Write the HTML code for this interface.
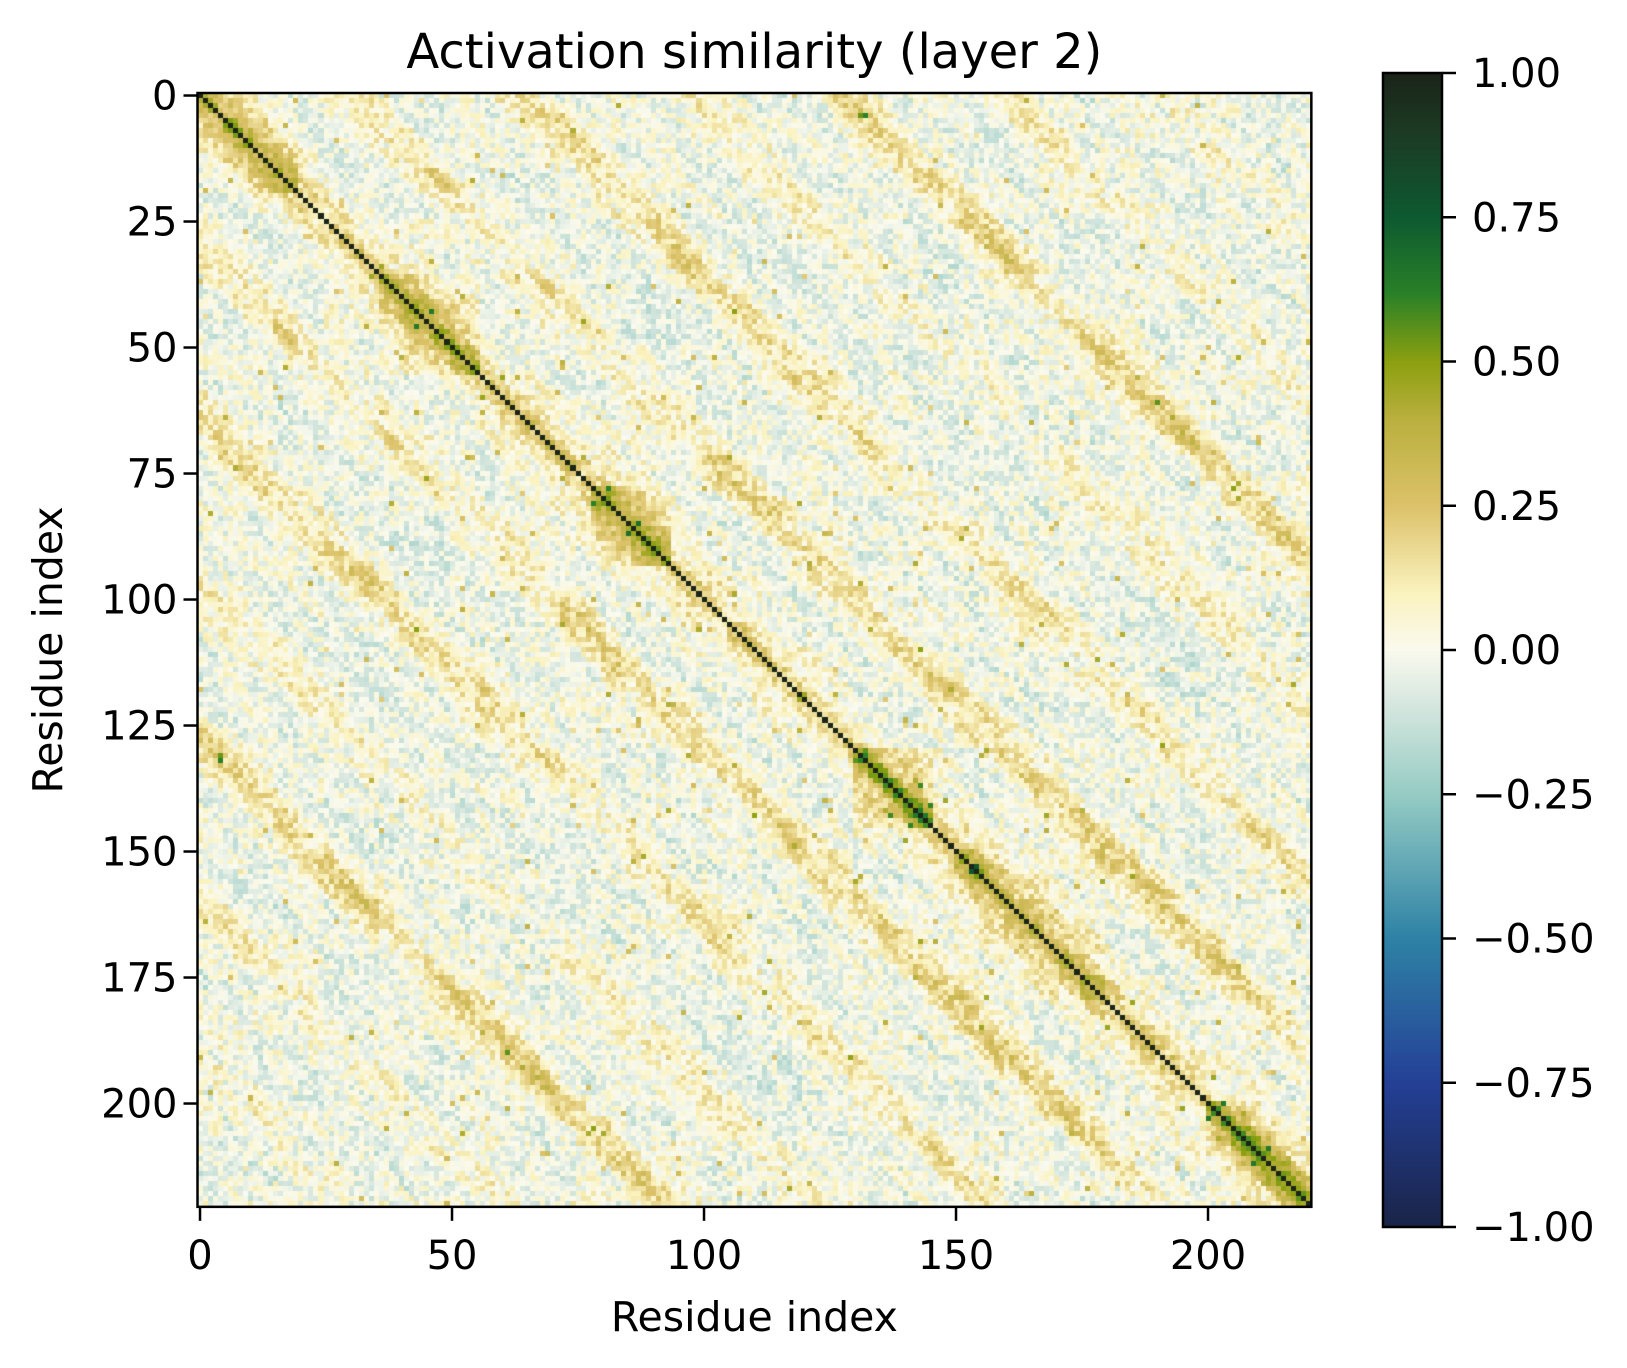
<!DOCTYPE html>
<html><head><meta charset="utf-8">
<style>
html,body{margin:0;padding:0;background:#fff;}
#wrap{position:relative;width:1627px;height:1368px;overflow:hidden;font-family:"DejaVu Sans","Liberation Sans",sans-serif;}
canvas{position:absolute;}
svg{position:absolute;left:0;top:0;}
</style></head>
<body>
<div id="wrap">
<canvas id="heat"></canvas>
<canvas id="cbar"></canvas>
<svg id="ax" width="1627" height="1368"></svg>
</div>
<script>
// ---- data ----
const nResidues = 221;
const xTicks = [0, 50, 100, 150, 200];
const yTicks = [0, 25, 50, 75, 100, 125, 150, 175, 200];
const cbarTicks = [1.00, 0.75, 0.50, 0.25, 0.00, -0.25, -0.50, -0.75, -1.00];
// off-diagonal similarity bands (|j - i| = offset)
const bandOffsets = [30, 64, 97, 128, 160, 190];
const bandStrength = [0.17, 0.15, 0.08, 0.2, 0.1, 0.08];
// diagonal blocks with elevated similarity
const blockStart = [0, 36, 78, 130, 150, 200];
const blockEnd   = [20, 56, 94, 146, 180, 221];
const blockStrength = [0.22, 0.25, 0.3, 0.3, 0.18, 0.3];
const baseValue = 0.0;

// ---- geometry ----
const L = 197.5, T = 93, CELL = 5.04;
const W = nResidues * CELL;
const CB = {x:1383, y:73, w:59, h:1154};

const stops = [
 [-1,[26,36,72]],[-0.75,[36,64,150]],[-0.5,[46,130,165]],[-0.25,[150,204,196]],
 [-0.1,[212,230,222]],[0,[250,250,238]],[0.1,[250,242,190]],[0.25,[220,194,106]],
 [0.4,[186,176,62]],[0.5,[140,160,16]],[0.62,[40,128,40]],[0.75,[14,90,48]],
 [0.9,[28,58,36]],[1,[26,36,24]]];
function cmap(v){
  v=Math.max(-1,Math.min(1,v));
  for(let k=1;k<stops.length;k++){
    if(v<=stops[k][0]){
      const a=stops[k-1],b=stops[k],t=(v-a[0])/(b[0]-a[0]);
      return a[1].map((c,i)=>Math.round(c+(b[1][i]-c)*t));
    }
  }
  return stops[stops.length-1][1];
}
function hash(i,j){let h=(i*374761393+j*668265263)>>>0;h=(h^(h>>>13))*1274126177>>>0;return ((h^(h>>>16))>>>0)/4294967295;}
function value(i,j){
  const a=Math.min(i,j),b=Math.max(i,j),d=b-a;
  if(d===0) return 1;
  let v=baseValue;
  v+=0.3*Math.exp(-d/5);
  for(let k=0;k<blockStart.length;k++){
    if(a>=blockStart[k]&&b<blockEnd[k]) v+=blockStrength[k]*Math.exp(-d/7);
  }
  for(let k=0;k<bandOffsets.length;k++){
    const e=d-bandOffsets[k]; v+=bandStrength[k]*Math.exp(-(e*e)/25)*(0.6+0.8*hash(Math.floor(a/12),k));
  }
  const n=(hash(a,b)-0.5)*0.22+(hash(Math.floor(a/5),Math.floor((b-a)/3))-0.5)*0.12-0.02;
  v+=n;
  if(hash(b,a+7)>0.99) v+=0.3;
  return v;
}

// ---- heatmap ----
const hc=document.getElementById('heat');
hc.width=Math.round(W);hc.height=Math.round(W);
hc.style.left=L+'px';hc.style.top=T+'px';
const hx=hc.getContext('2d');
for(let i=0;i<nResidues;i++)for(let j=0;j<nResidues;j++){
  const c=cmap(value(i,j));
  hx.fillStyle=`rgb(${c[0]},${c[1]},${c[2]})`;
  hx.fillRect(Math.floor(j*CELL),Math.floor(i*CELL),Math.ceil(CELL)+1,Math.ceil(CELL)+1);
}
// ---- colorbar ----
const cc=document.getElementById('cbar');
cc.width=CB.w;cc.height=CB.h;cc.style.left=CB.x+'px';cc.style.top=CB.y+'px';
const cx=cc.getContext('2d');
for(let y=0;y<CB.h;y++){const c=cmap(1-2*y/(CB.h-1));cx.fillStyle=`rgb(${c[0]},${c[1]},${c[2]})`;cx.fillRect(0,y,CB.w,1);}

// ---- axes ----
const svg=document.getElementById('ax');const NS='http://www.w3.org/2000/svg';
function el(tag,attrs,text){const e=document.createElementNS(NS,tag);for(const k in attrs)e.setAttribute(k,attrs[k]);if(text!==undefined)e.textContent=text;svg.appendChild(e);return e;}
const xPos=v=>L+(v+0.5)*CELL, yPos=v=>T+(v+0.5)*CELL;
let r=el('rect',{x:L,y:T,width:W,height:W,fill:'none',stroke:'#000','stroke-width':2.5});

xTicks.forEach(v=>{
  const l=el('line',{x1:xPos(v),x2:xPos(v),y1:T+W,y2:T+W+14,stroke:'#000','stroke-width':2.5});
  
  const t=el('text',{x:xPos(v),y:1269,'text-anchor':'middle','font-size':40},String(v));
  
});
yTicks.forEach(v=>{
  const l=el('line',{x1:L-14,x2:L,y1:yPos(v),y2:yPos(v),stroke:'#000','stroke-width':2.5});
  
  const t=el('text',{x:L-20,y:yPos(v)+14,'text-anchor':'end','font-size':40},String(v));
  
});
let c2=el('rect',{x:CB.x,y:CB.y,width:CB.w,height:CB.h,fill:'none',stroke:'#000','stroke-width':2.5});

cbarTicks.forEach(v=>{
  const y=CB.y+(1-v)/2*CB.h;
  const l=el('line',{x1:CB.x+CB.w,x2:CB.x+CB.w+14,y1:y,y2:y,stroke:'#000','stroke-width':2.5});
  
  const t=el('text',{x:CB.x+CB.w+30,y:y+14,'font-size':40},(v<0?'\u2212':'')+Math.abs(v).toFixed(2));
  
});
let tt=el('text',{x:L+W/2,y:68,'text-anchor':'middle','font-size':48},'Activation similarity (layer 2)');

let xl=el('text',{x:L+W/2,y:1331,'text-anchor':'middle','font-size':41},'Residue index');

let yl=el('text',{x:0,y:0,'text-anchor':'middle','font-size':41,transform:`translate(62,${T+W/2}) rotate(-90)`},'Residue index');

</script>
</body></html>
